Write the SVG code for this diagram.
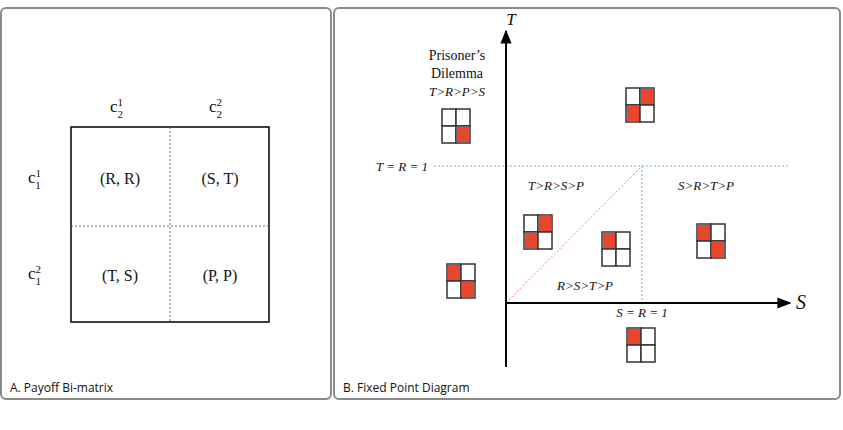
<svg xmlns="http://www.w3.org/2000/svg" width="843" height="430" viewBox="0 0 843 430">
<style>
.panel{fill:#fff;stroke:#8a8a8a;stroke-width:2}
.serif{font-family:"Liberation Serif","Times New Roman",serif;fill:#111}
.it{font-style:italic}
.lab{font-family:"Open Sans","Liberation Sans",sans-serif;font-size:12px;fill:#111}
.cell{fill:#fff;stroke:#333;stroke-width:1.5}
.red{fill:#e8472f}
</style>
<defs>
<marker id="ah" viewBox="0 0 10 10" refX="9" refY="5" markerWidth="7" markerHeight="7" orient="auto"><path d="M0,1 L10,5 L0,9 z" fill="#000"/></marker>
<g id="m"><rect class="cell" x="0" y="0" width="14" height="17"/><rect class="cell" x="14" y="0" width="14" height="17"/><rect class="cell" x="0" y="17" width="14" height="17"/><rect class="cell" x="14" y="17" width="14" height="17"/></g>
</defs>
<rect class="panel" x="1" y="8" width="330" height="391" rx="5"/>
<rect class="panel" x="334" y="8" width="506" height="391" rx="5"/>
<g id="matrix">
<rect x="71" y="127" width="198" height="195" fill="none" stroke="#000" stroke-width="1.5"/>
<line x1="170" y1="127" x2="170" y2="322" stroke="#666" stroke-dasharray="2,2"/>
<line x1="71" y1="226" x2="269" y2="226" stroke="#666" stroke-dasharray="2,2"/>
<text class="serif" font-size="16" x="120" y="184" text-anchor="middle">(R, R)</text>
<text class="serif" font-size="16" x="220" y="184" text-anchor="middle">(S, T)</text>
<text class="serif" font-size="16" x="120" y="281" text-anchor="middle">(T, S)</text>
<text class="serif" font-size="16" x="220" y="281" text-anchor="middle">(P, P)</text>
<text class="serif" font-size="17" x="110" y="112">c<tspan font-size="11" dy="-6">1</tspan><tspan font-size="11" dx="-5.5" dy="12">2</tspan></text>
<text class="serif" font-size="17" x="209" y="112">c<tspan font-size="11" dy="-6">2</tspan><tspan font-size="11" dx="-5.5" dy="12">2</tspan></text>
<text class="serif" font-size="17" x="28" y="183">c<tspan font-size="11" dy="-6">1</tspan><tspan font-size="11" dx="-5.5" dy="12">1</tspan></text>
<text class="serif" font-size="17" x="28" y="279">c<tspan font-size="11" dy="-6">2</tspan><tspan font-size="11" dx="-5.5" dy="12">1</tspan></text>
</g>
<g id="connectors">
<line x1="434" y1="166" x2="790" y2="166" stroke="#7aaee0" stroke-dasharray="2,2"/>
<line x1="642" y1="166" x2="642" y2="303" stroke="#7aaee0" stroke-dasharray="2,2"/>
<line x1="506" y1="303" x2="642" y2="166" stroke="#f08080" stroke-dasharray="2,2"/>
<line x1="506" y1="367" x2="506" y2="31" stroke="#000" stroke-width="2" marker-end="url(#ah)"/>
<line x1="505" y1="303" x2="790" y2="303" stroke="#000" stroke-width="2" marker-end="url(#ah)"/>
</g>
<g id="labels">
<text class="serif it" font-size="17" x="511" y="25" text-anchor="middle">T</text>
<text class="serif it" font-size="20" x="801" y="309" text-anchor="middle">S</text>
<text class="serif" font-size="14" x="457" y="60" text-anchor="middle">Prisoner’s</text>
<text class="serif" font-size="14" x="457" y="78" text-anchor="middle">Dilemma</text>
<text class="serif it" font-size="13" x="457" y="96" text-anchor="middle">T&gt;R&gt;P&gt;S</text>
<text class="serif it" font-size="13" x="428" y="171" text-anchor="end">T = R = 1</text>
<text class="serif it" font-size="13" x="556" y="190" text-anchor="middle">T&gt;R&gt;S&gt;P</text>
<text class="serif it" font-size="13" x="706" y="190" text-anchor="middle">S&gt;R&gt;T&gt;P</text>
<text class="serif it" font-size="13" x="585" y="290" text-anchor="middle">R&gt;S&gt;T&gt;P</text>
<text class="serif it" font-size="13" x="642" y="317" text-anchor="middle">S = R = 1</text>
</g>
<g id="m-pd"><use href="#m" x="442" y="109"/><rect class="red" x="457" y="127" width="12" height="15"/></g>
<g id="m-top"><use href="#m" x="626" y="88"/><rect class="red" x="641" y="89" width="12" height="15"/><rect class="red" x="627" y="106" width="12" height="15"/></g>
<g id="m-a"><use href="#m" x="524" y="215"/><rect class="red" x="539" y="216" width="12" height="15"/><rect class="red" x="525" y="233" width="12" height="15"/></g>
<g id="m-b"><use href="#m" x="602" y="232"/><rect class="red" x="603" y="233" width="12" height="15"/></g>
<g id="m-c"><use href="#m" x="697" y="224"/><rect class="red" x="698" y="225" width="12" height="15"/><rect class="red" x="712" y="242" width="12" height="15"/></g>
<g id="m-d"><use href="#m" x="447" y="264"/><rect class="red" x="448" y="265" width="12" height="15"/><rect class="red" x="462" y="282" width="12" height="15"/></g>
<g id="m-e"><use href="#m" x="627" y="328"/><rect class="red" x="628" y="329" width="12" height="15"/></g>
<text class="lab" x="10" y="392">A. Payoff Bi-matrix</text>
<text class="lab" x="343" y="392">B. Fixed Point Diagram</text>
</svg>
